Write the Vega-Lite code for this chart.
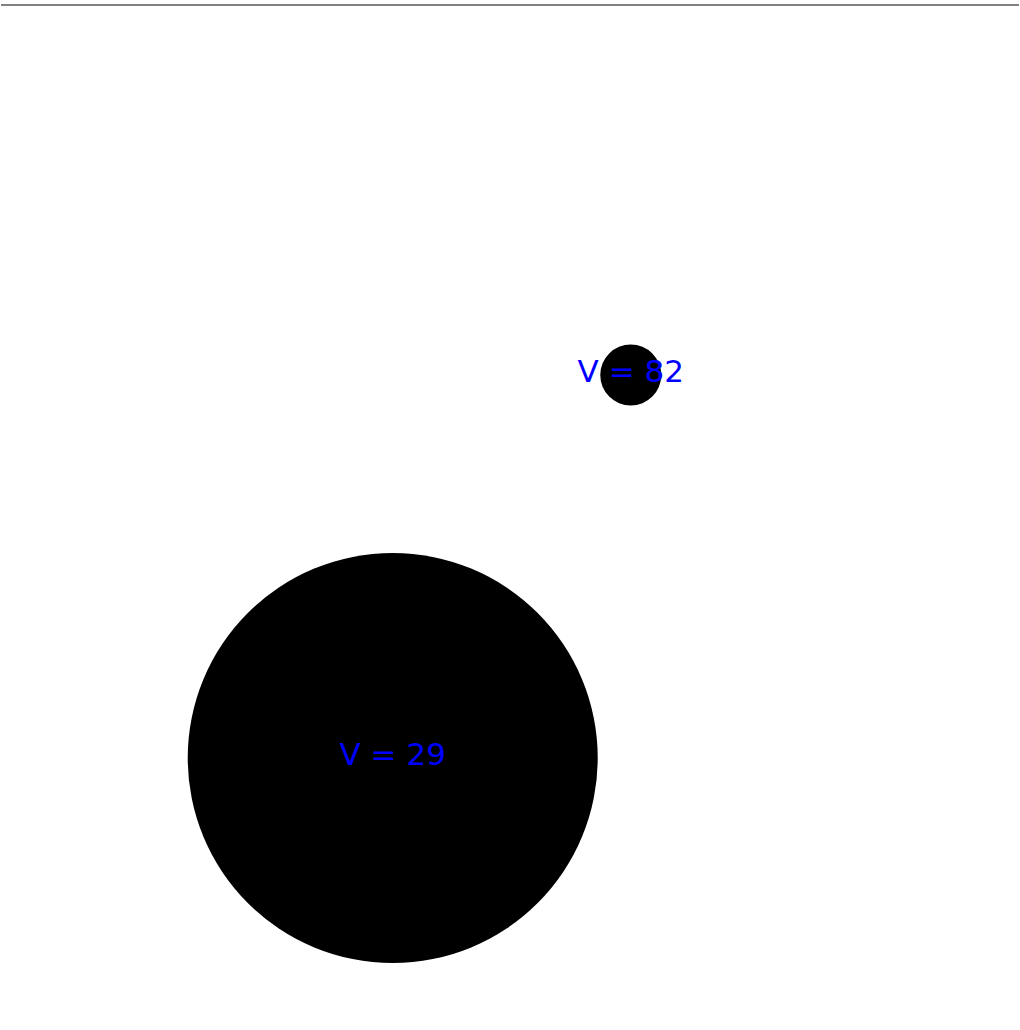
{
  "$schema": "https://vega.github.io/schema/vega-lite/v6.json",
  "autosize": {"type": "fit", "contains": "padding"},
  "width": 1020,
  "height": 1030,
  "padding": 0,
  "background": "white",
  "config": {"view": {"stroke": null}},
  "data": {"values": [
    {"label": "V = 29", "v": 29, "x": 392.5, "y": 758, "r": 205},
    {"label": "V = 82", "v": 82, "x": 631, "y": 375, "r": 30.5}
  ]},
  "encoding": {
    "x": {"field": "x", "type": "quantitative", "scale": {"domain": [0, 1020], "nice": false, "zero": false}, "axis": null},
    "y": {"field": "y", "type": "quantitative", "scale": {"domain": [0, 1030], "nice": false, "zero": false, "reverse": true}, "axis": null}
  },
  "layer": [
    {
      "mark": {"type": "point", "shape": "circle", "filled": true, "color": "black", "opacity": 1, "strokeWidth": 0},
      "encoding": {
        "size": {"field": "r", "type": "quantitative", "scale": {"type": "pow", "exponent": 2, "domain": [0, 205], "range": [0, 168100]}, "legend": null}
      }
    },
    {
      "mark": {"type": "text", "color": "#0000ff", "font": "DejaVu Sans", "fontSize": 31, "baseline": "middle", "align": "center", "dy": -2},
      "encoding": {"text": {"field": "label"}}
    },
    {
      "data": {"values": [{"edge": 5}]},
      "mark": {"type": "rule", "color": "#808080", "strokeWidth": 2},
      "encoding": {"y": {"field": "edge", "type": "quantitative"}, "x": null}
    }
  ]
}
